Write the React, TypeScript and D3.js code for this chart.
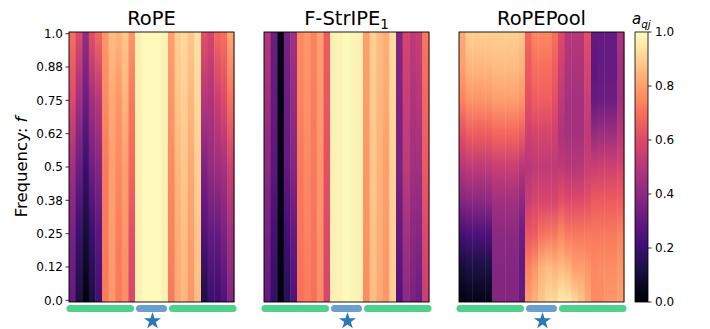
import { useEffect, useRef } from 'react'
import * as d3 from 'd3'

// columns = key positions j, rows = frequency f from 1.0 (top) down to 0.0 (bottom)
const COLS = 25

const ropeRows = [
  [.70, .60, .42, .62, .68, .78, .86, .84, .88, .78, .97, .99, .99, .99, .97, .80, .90, .92, .88, .94, .62, .58, .68, .70, .82],
  [.60, .45, .32, .45, .50, .75, .82, .78, .84, .72, .97, .99, .99, .99, .97, .78, .88, .90, .85, .92, .50, .48, .55, .60, .70],
  [.45, .32, .20, .33, .38, .72, .80, .75, .80, .68, .97, .99, .99, .99, .97, .76, .85, .88, .82, .90, .36, .42, .44, .46, .56],
  [.35, .20, .10, .20, .28, .72, .80, .73, .78, .62, .97, .99, .99, .99, .97, .74, .83, .86, .80, .88, .25, .30, .30, .35, .45],
  [.30, .12, .02, .12, .22, .72, .78, .72, .76, .58, .97, .99, .99, .99, .97, .72, .82, .85, .78, .86, .12, .20, .20, .25, .38],
]

const stripeRows = [
  [.50, .32, .05, .35, .45, .75, .78, .74, .80, .65, .97, .98, .99, .98, .97, .80, .90, .86, .83, .93, .38, .58, .52, .55, .72],
  [.45, .30, .04, .32, .42, .74, .77, .73, .79, .64, .97, .98, .99, .98, .97, .79, .89, .85, .82, .92, .36, .55, .48, .50, .68],
  [.40, .28, .04, .30, .38, .72, .75, .72, .78, .62, .97, .98, .99, .98, .97, .78, .88, .84, .80, .91, .35, .52, .45, .45, .65],
  [.35, .22, .03, .22, .30, .71, .74, .71, .77, .60, .97, .98, .99, .98, .97, .77, .87, .83, .79, .90, .30, .46, .40, .38, .60],
  [.30, .18, .03, .15, .25, .70, .72, .70, .76, .58, .97, .98, .99, .98, .97, .76, .86, .82, .78, .90, .25, .40, .35, .32, .55],
]

const poolRows = [
  [.82, .90, .90, .90, .90, .90, .90, .90, .90, .88, .68, .75, .75, .75, .70, .60, .50, .50, .50, .62, .30, .30, .30, .30, .48],
  [.80, .85, .85, .85, .85, .86, .86, .86, .86, .84, .65, .70, .70, .70, .66, .56, .48, .48, .48, .58, .28, .30, .30, .30, .45],
  [.74, .78, .78, .78, .78, .80, .80, .80, .80, .78, .62, .66, .66, .66, .62, .52, .46, .46, .46, .55, .30, .32, .32, .32, .45],
  [.62, .66, .66, .66, .66, .68, .68, .68, .68, .66, .56, .58, .58, .58, .56, .48, .46, .46, .46, .52, .42, .44, .44, .44, .50],
  [.50, .52, .52, .52, .52, .55, .55, .55, .55, .50, .50, .52, .52, .52, .52, .52, .50, .50, .50, .55, .55, .56, .56, .56, .58],
  [.38, .40, .40, .40, .40, .45, .45, .45, .45, .40, .55, .58, .58, .58, .58, .62, .60, .60, .60, .62, .65, .65, .65, .65, .66],
  [.22, .24, .24, .24, .24, .40, .40, .40, .40, .32, .64, .66, .70, .72, .72, .75, .72, .72, .72, .72, .72, .72, .72, .72, .74],
  [.10, .12, .12, .12, .12, .38, .38, .38, .38, .30, .74, .78, .84, .86, .84, .86, .84, .80, .80, .78, .75, .76, .76, .76, .78],
  [.03, .04, .04, .04, .04, .38, .38, .38, .38, .30, .80, .84, .88, .92, .92, .96, .95, .92, .88, .82, .76, .76, .78, .78, .80],
]

const titles = ['RoPE', 'F-StrIPE', 'RoPEPool']
const titleSubs = ['', '1', '']

const yTickValues = [0, 0.125, 0.25, 0.375, 0.5, 0.625, 0.75, 0.875, 1]
const yTickLabels = ['0.0', '0.12', '0.25', '0.38', '0.5', '0.62', '0.75', '0.88', '1.0']

const cbarTicks = [0, 0.2, 0.4, 0.6, 0.8, 1.0]

// token segments under each panel
const segStarts = [0, 10, 15]
const segEnds = [10, 15, 25]
const segKinds = ['ctx', 'query', 'ctx']
const starPos = 12.5

function draw(el: SVGSVGElement | null) {
  if (!el) return
  const svg = d3.select(el)
  svg.selectAll('*').remove()

  const font = 'DejaVu Sans, sans-serif'
  const top = 32, height = 270, width = 165
  const lefts = [69, 264, 459]
  const panelData = [ropeRows, stripeRows, poolRows]
  const color = d3.interpolateMagma
  const segColor: Record<string, string> = { ctx: '#4fd08b', query: '#6b9fcd' }

  const defs = svg.append('defs')

  panelData.forEach((rows, p) => {
    const left = lefts[p]
    const x = d3.scaleLinear().domain([0, COLS]).range([left, left + width])
    const g = svg.append('g')

    d3.range(COLS).forEach(c => {
      const id = `grad-${p}-${c}`
      const lg = defs.append('linearGradient')
        .attr('id', id)
        .attr('x1', 0).attr('y1', 0).attr('x2', 0).attr('y2', 1)
      rows.forEach((row, k) => {
        lg.append('stop')
          .attr('offset', k / (rows.length - 1))
          .attr('stop-color', color(row[c]))
      })
      g.append('rect')
        .attr('x', x(c))
        .attr('y', top)
        .attr('width', x(c + 1) - x(c) + 0.4)
        .attr('height', height)
        .attr('fill', `url(#${id})`)
    })

    g.append('rect')
      .attr('x', left).attr('y', top)
      .attr('width', width).attr('height', height)
      .attr('fill', 'none').attr('stroke', '#000').attr('stroke-width', 0.9)

    const t = svg.append('text')
      .attr('x', left + width / 2)
      .attr('y', 25)
      .attr('text-anchor', 'middle')
      .attr('font-family', font)
      .attr('font-size', 19.5)
      .text(titles[p])
    if (titleSubs[p]) {
      t.append('tspan').attr('dy', 4).attr('font-size', 13.5).text(titleSubs[p])
    }

    segStarts.forEach((s, i) => {
      const e = segEnds[i]
      const x0 = x(s) + (s === 0 ? -2.5 : 1)
      const x1 = x(e) + (e === COLS ? 2.5 : -1)
      svg.append('rect')
        .attr('x', x0).attr('y', 305)
        .attr('width', x1 - x0).attr('height', 7)
        .attr('rx', 3.5)
        .attr('fill', segColor[segKinds[i]])
    })

    svg.append('path')
      .attr('d', d3.symbol(d3.symbolStar, 92)())
      .attr('transform', `translate(${x(starPos) + 1},${321})`)
      .attr('fill', '#2a78b6')
  })

  // y axis on the first panel
  const y = d3.scaleLinear().domain([0, 1]).range([top + height - 1.7, top + 1.7])
  const ya = svg.append('g')
  yTickValues.forEach((v, i) => {
    ya.append('line')
      .attr('x1', lefts[0] - 3.5).attr('x2', lefts[0])
      .attr('y1', y(v)).attr('y2', y(v))
      .attr('stroke', '#000').attr('stroke-width', 0.8)
    ya.append('text')
      .attr('x', lefts[0] - 6)
      .attr('y', y(v))
      .attr('dy', '0.35em')
      .attr('text-anchor', 'end')
      .attr('font-family', font)
      .attr('font-size', 12)
      .text(yTickLabels[i])
  })
  const yl = svg.append('text')
    .attr('transform', `translate(27,${top + height / 2}) rotate(-90)`)
    .attr('text-anchor', 'middle')
    .attr('font-family', font)
    .attr('font-size', 16.5)
    .text('Frequency: ')
  yl.append('tspan').attr('font-style', 'italic').text('f')

  // colorbar
  const cbX = 635, cbW = 13
  const cg = defs.append('linearGradient')
    .attr('id', 'cbar').attr('x1', 0).attr('y1', 1).attr('x2', 0).attr('y2', 0)
  d3.range(0, 1.0001, 0.05).forEach(v => {
    cg.append('stop').attr('offset', v).attr('stop-color', color(v))
  })
  svg.append('rect')
    .attr('x', cbX).attr('y', top).attr('width', cbW).attr('height', height)
    .attr('fill', 'url(#cbar)')
    .attr('stroke', '#000').attr('stroke-width', 0.8)
  const cy = d3.scaleLinear().domain([0, 1]).range([top + height, top])
  cbarTicks.forEach(v => {
    svg.append('line')
      .attr('x1', cbX + cbW).attr('x2', cbX + cbW + 3.5)
      .attr('y1', cy(v)).attr('y2', cy(v))
      .attr('stroke', '#000').attr('stroke-width', 0.8)
    svg.append('text')
      .attr('x', cbX + cbW + 7)
      .attr('y', cy(v))
      .attr('dy', '0.35em')
      .attr('font-family', font)
      .attr('font-size', 12)
      .text(v.toFixed(1))
  })
  const al = svg.append('text')
    .attr('x', 632).attr('y', 24)
    .attr('font-family', font)
    .attr('font-style', 'italic')
    .attr('font-size', 15)
    .text('a')
  al.append('tspan').attr('dy', 3.5).attr('font-size', 10.5).text('qj')
}

function App() {
  const ref = useRef<SVGSVGElement>(null)
  useEffect(() => {
    draw(ref.current)
  }, [])

  return (
    <svg
      ref={ref}
      width={710}
      height={329}
      style={{ position: 'absolute', left: 0, top: 0, background: '#fff' }}
    />
  )
}

export default App
